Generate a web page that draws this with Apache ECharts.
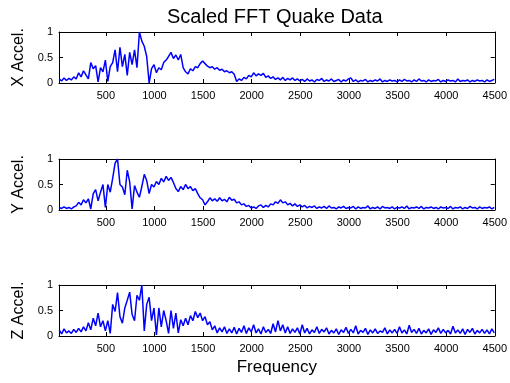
<!DOCTYPE html>
<html>
<head>
<meta charset="utf-8">
<script src="https://cdn.jsdelivr.net/npm/echarts@6/dist/echarts.min.js"></script>
<style>
  html, body { margin: 0; padding: 0; background: #fff; }
  #chart { width: 510px; height: 383px; }
</style>
</head>
<body>
<div id="chart"></div>
<script>
// spectrum sampled every 25 Hz starting at 20 Hz
const FREQ_START = 20;
const FREQ_STEP = 25;

const xAccel = [
  0.08,0.04,0.10,0.05,0.09,0.06,0.12,0.08,0.20,0.12,0.24,0.16,0.08,0.40,0.28,0.34,0.02,0.30,0.22,0.45,
  0.03,0.32,0.40,0.65,0.22,0.70,0.32,0.56,0.15,0.60,0.36,0.65,0.30,1.00,0.82,0.72,0.52,0.00,0.28,0.36,
  0.20,0.30,0.26,0.40,0.45,0.52,0.60,0.48,0.55,0.45,0.56,0.30,0.22,0.18,0.28,0.24,0.32,0.30,0.38,0.43,
  0.38,0.33,0.30,0.32,0.27,0.30,0.25,0.27,0.22,0.24,0.20,0.22,0.17,0.03,0.08,0.05,0.11,0.08,0.15,0.12,
  0.20,0.14,0.18,0.15,0.19,0.11,0.14,0.09,0.12,0.07,0.10,0.06,0.11,0.05,0.09,0.06,0.10,0.05,0.08,0.04,
  0.07,0.03,0.08,0.04,0.06,0.02,0.07,0.05,0.09,0.03,0.06,0.04,0.08,0.03,0.05,0.07,0.02,0.06,0.04,0.08,
  0.10,0.03,0.06,0.02,0.05,0.04,0.07,0.02,0.05,0.03,0.06,0.04,0.08,0.02,0.05,0.03,0.06,0.04,0.05,0.02,
  0.06,0.03,0.07,0.04,0.05,0.02,0.06,0.03,0.08,0.04,0.05,0.02,0.06,0.03,0.05,0.04,0.07,0.02,0.05,0.03,
  0.06,0.04,0.05,0.02,0.08,0.03,0.05,0.04,0.06,0.02,0.05,0.03,0.06,0.04,0.05,0.02,0.06,0.03,0.05,0.07
];

const yAccel = [
  0.05,0.03,0.06,0.03,0.05,0.02,0.06,0.08,0.15,0.10,0.20,0.14,0.22,0.02,0.32,0.40,0.18,0.35,0.50,0.05,
  0.50,0.35,0.62,0.92,1.00,0.50,0.45,0.30,0.78,0.55,0.02,0.48,0.35,0.25,0.46,0.70,0.58,0.32,0.50,0.45,
  0.56,0.50,0.62,0.55,0.66,0.58,0.64,0.54,0.42,0.36,0.46,0.40,0.50,0.42,0.46,0.38,0.42,0.32,0.24,0.20,
  0.10,0.16,0.24,0.18,0.22,0.17,0.24,0.18,0.21,0.16,0.25,0.19,0.21,0.14,0.16,0.10,0.12,0.07,0.09,0.04,
  0.06,0.03,0.08,0.10,0.05,0.09,0.06,0.12,0.10,0.16,0.13,0.20,0.14,0.16,0.10,0.13,0.08,0.12,0.07,0.10,
  0.06,0.09,0.04,0.07,0.05,0.08,0.03,0.06,0.04,0.07,0.03,0.08,0.04,0.05,0.02,0.06,0.04,0.07,0.03,0.05,
  0.04,0.07,0.02,0.06,0.03,0.05,0.04,0.08,0.02,0.05,0.03,0.06,0.02,0.07,0.04,0.05,0.03,0.06,0.02,0.05,
  0.04,0.06,0.03,0.08,0.02,0.05,0.04,0.06,0.03,0.07,0.02,0.05,0.04,0.06,0.03,0.05,0.02,0.06,0.04,0.05,
  0.03,0.07,0.02,0.05,0.04,0.06,0.02,0.05,0.03,0.07,0.04,0.05,0.02,0.06,0.03,0.05,0.04,0.06,0.02,0.05
];

const zAccel = [
  0.12,0.04,0.14,0.06,0.10,0.05,0.13,0.07,0.15,0.08,0.18,0.10,0.26,0.12,0.35,0.20,0.45,0.18,0.30,0.10,
  0.30,0.05,0.62,0.48,0.85,0.38,0.25,0.55,0.70,0.86,0.42,0.30,0.80,0.70,1.00,0.10,0.62,0.76,0.30,0.55,
  0.02,0.55,0.18,0.50,0.30,0.05,0.50,0.15,0.45,0.06,0.32,0.20,0.35,0.22,0.40,0.30,0.48,0.36,0.45,0.30,
  0.38,0.22,0.28,0.12,0.20,0.06,0.16,0.08,0.18,0.05,0.14,0.06,0.17,0.04,0.15,0.07,0.20,0.05,0.16,0.08,
  0.22,0.06,0.14,0.04,0.18,0.07,0.13,0.05,0.24,0.08,0.30,0.10,0.22,0.06,0.18,0.05,0.14,0.07,0.16,0.04,
  0.22,0.06,0.15,0.04,0.12,0.07,0.18,0.05,0.13,0.08,0.16,0.04,0.11,0.06,0.14,0.03,0.12,0.07,0.17,0.05,
  0.13,0.06,0.20,0.04,0.11,0.07,0.15,0.03,0.12,0.06,0.14,0.05,0.10,0.07,0.16,0.04,0.12,0.06,0.13,0.05,
  0.18,0.06,0.12,0.04,0.21,0.07,0.13,0.05,0.15,0.04,0.11,0.06,0.14,0.03,0.12,0.07,0.16,0.05,0.13,0.06,
  0.11,0.04,0.19,0.06,0.12,0.05,0.14,0.03,0.13,0.07,0.15,0.04,0.11,0.06,0.13,0.05,0.12,0.04,0.14,0.06
];

const freqTicks = [500, 1000, 1500, 2000, 2500, 3000, 3500, 4000, 4500];
const panelNames = ['X Accel.', 'Y Accel.', 'Z Accel.'];
const panelData = [xAccel, yAccel, zAccel];

const FONT = 'Liberation Sans, Arial, Helvetica, sans-serif';
const tops = [32, 159, 285];

function toPoints(vals) {
  return vals.map((v, i) => [FREQ_START + FREQ_STEP * i, v]);
}

const chart = echarts.init(document.getElementById('chart'), null, { renderer: 'canvas' });

const grids = [], xAxes = [], yAxes = [], series = [];
tops.forEach((top, k) => {
  grids.push({ left: 59, right: 14, top: top, height: 51 });
  const xBase = {
    type: 'value', gridIndex: k, min: 18, max: 4500,
    axisLine: { show: true, onZero: false, lineStyle: { color: '#000', width: 1 } },
    axisTick: { show: true, inside: true, length: 4, customValues: freqTicks, lineStyle: { color: '#000' } },
    splitLine: { show: false }
  };
  xAxes.push(Object.assign({}, xBase, {
    position: 'bottom',
    axisLabel: {
      show: true, customValues: freqTicks, color: '#000', fontSize: 11, fontFamily: FONT, margin: 7,
      formatter: (v) => String(v)
    },
    name: k === 2 ? 'Frequency' : '',
    nameLocation: 'middle', nameGap: 23,
    nameTextStyle: { color: '#000', fontSize: 17, fontFamily: FONT }
  }));
  xAxes.push(Object.assign({}, xBase, { position: 'top', axisLabel: { show: false } }));
  const yBase = {
    type: 'value', gridIndex: k, min: 0, max: 1, interval: 0.5,
    axisLine: { show: true, onZero: false, lineStyle: { color: '#000', width: 1 } },
    axisTick: { show: true, inside: true, length: 4, lineStyle: { color: '#000' } },
    splitLine: { show: false }
  };
  yAxes.push(Object.assign({}, yBase, {
    position: 'left',
    axisLabel: { color: '#000', fontSize: 11, fontFamily: FONT, margin: 6, formatter: (v) => String(v) },
    name: panelNames[k], nameLocation: 'middle', nameGap: 29, nameRotate: 90,
    nameTextStyle: { color: '#000', fontSize: 16, fontFamily: FONT }
  }));
  yAxes.push(Object.assign({}, yBase, { position: 'right', axisLabel: { show: false } }));
  series.push({
    type: 'line', xAxisIndex: 2 * k, yAxisIndex: 2 * k,
    data: toPoints(panelData[k]),
    showSymbol: false, symbol: 'none',
    lineStyle: { color: '#0000FF', width: 1.5 },
    clip: true
  });
});

chart.setOption({
  animation: false,
  backgroundColor: '#fff',
  title: {
    text: 'Scaled FFT Quake Data', left: 162, top: 2,
    textStyle: { color: '#000', fontSize: 20, fontWeight: 'normal', fontFamily: FONT }
  },
  grid: grids,
  xAxis: xAxes,
  yAxis: yAxes,
  series: series
});
</script>
</body>
</html>
